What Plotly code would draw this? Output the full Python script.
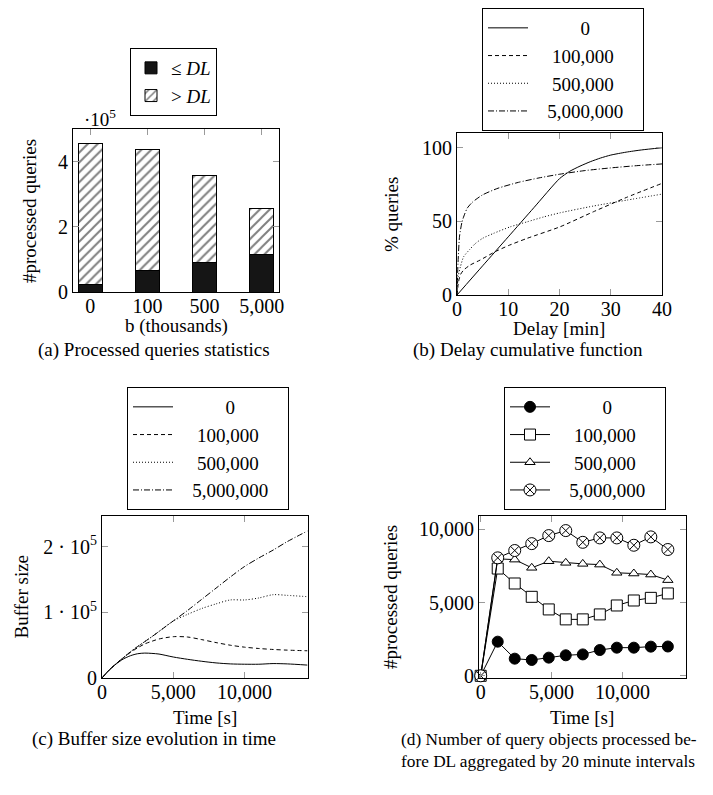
import plotly.graph_objects as go

# The page body adds an 8px margin on every side; keep the page inside the window
OFF = 8
W, H = 713 - 2 * OFF, 795 - 2 * OFF
FONT = "Liberation Serif"


def fx(p):
    return (p - OFF) / W


def fy(p):
    return 1 - (p - OFF) / H


# ---------------- (a) Processed queries statistics ----------------
b_cats = ["0", "100", "500", "5,000"]
le_dl = [22000, 66000, 89000, 114000]          # <= DL
gt_dl = [434000, 371000, 267000, 143000]       # > DL

# ---------------- (b) Delay cumulative function ----------------
b_labels = ["0", "100,000", "500,000", "5,000,000"]
delay_0 = [0, 5, 10, 15, 20, 22, 24, 26, 28, 30, 33, 36, 40]
pct_0 = [0, 19.8, 39.5, 59.3, 79, 84, 87.5, 90.5, 93, 95, 97, 98.5, 100]
delay_100k = [0, 0.3, 0.7, 1.3, 2.6, 4.5, 7.45, 10, 13.7, 20.1, 26.6, 33.1, 40]
pct_100k = [0, 9, 14, 17, 20.4, 23.7, 29.4, 33.5, 38.5, 46.3, 56.5, 66.3, 75.8]
delay_500k = [0, 0.2, 0.65, 1.3, 2.5, 3.6, 5, 7.1, 10.4, 13.7, 16.9, 20.1, 26.6, 33.1, 40]
pct_500k = [0, 12, 19, 26, 31, 35, 38.5, 41.8, 46.3, 49.7, 53, 55.8, 60.4, 64.4, 68.5]
delay_5m = [0, 0.2, 0.5, 1, 1.5, 2, 3, 5, 8, 12, 16, 20, 25, 30, 35, 40]
pct_5m = [0, 22, 40, 50, 55, 59, 63, 68, 72.5, 76.5, 79.5, 82, 84.5, 86.3, 87.8, 89]

# ---------------- (c) Buffer size evolution ----------------
time_c = [0, 500, 1000, 1500, 2000, 2500, 3000, 3500, 4000, 5000, 6000,
          7000, 8000, 9000, 10000, 11000, 12000, 13000, 14400]
buf_0 = [0, 12000, 21500, 29000, 34000, 37000, 38000, 37500, 36500, 32000, 28500,
         25500, 23000, 21500, 21000, 21000, 22000, 21500, 19700]
buf_100k = [0, 12000, 22000, 31000, 39000, 46000, 52000, 56000, 59500, 63000, 62500,
            58500, 54000, 50000, 47000, 45000, 43500, 42500, 41500]
buf_500k = [0, 12000, 22000, 31000, 40000, 48000, 55500, 63000, 71000, 87000, 97000,
            106000, 113000, 119000, 119000, 122000, 127000, 126000, 124000]
buf_5m = [0, 12000, 22000, 31000, 40000, 48000, 55500, 63000, 71000, 87000, 103000,
          120000, 137000, 154000, 170000, 183000, 195000, 208000, 224000]

# ---------------- (d) Queries processed before DL per 20 min ----------------
time_d = [0, 1200, 2400, 3600, 4800, 6000, 7200, 8400, 9600, 10800, 12000, 13200]
proc_0 = [0, 2330, 1170, 1080, 1240, 1400, 1460, 1760, 1920, 1920, 1990, 2000]
proc_100k = [0, 7320, 6300, 5390, 4530, 3850, 3850, 4190, 4800, 5140, 5320, 5620]
proc_500k = [0, 7980, 7930, 7370, 7820, 7710, 7640, 7590, 7030, 6980, 6910, 6530]
proc_5m = [0, 8050, 8550, 9020, 9570, 9910, 9110, 9410, 9410, 8910, 9480, 8620]

# centre the legend labels as in the original (padding with no-break spaces)
NB = "\u00a0"
pad_l = [NB * 10, NB * 4, NB * 4, NB * 3]
pad_r = [NB * 3, NB * 3, NB * 3, NB * 3]
leg_labels = [a + s + b for a, s, b in zip(pad_l, b_labels, pad_r)]

fig = go.Figure()

# (a)
fig.add_trace(go.Bar(
    x=b_cats, y=le_dl, name="\u2264 <i>DL</i>", width=0.42,
    marker=dict(color="#151515", line=dict(color="black", width=1)),
    xaxis="x", yaxis="y", legend="legend"))
fig.add_trace(go.Bar(
    x=b_cats, y=gt_dl, name="> <i>DL</i>", width=0.42,
    marker=dict(color="white", line=dict(color="black", width=1),
                pattern=dict(shape="/", fgcolor="black", bgcolor="white",
                             size=7, solidity=0.28)),
    xaxis="x", yaxis="y", legend="legend"))

# (b)
dashes = ["solid", "4px,3px", "1px,2px", "6px,2px,1px,2px"]
b_x = [delay_0, delay_100k, delay_500k, delay_5m]
b_y = [pct_0, pct_100k, pct_500k, pct_5m]
for i in range(4):
    fig.add_trace(go.Scatter(
        x=b_x[i], y=b_y[i], name=leg_labels[i], mode="lines",
        line=dict(color="black", width=1, dash=dashes[i], shape="spline", smoothing=0.6),
        xaxis="x2", yaxis="y2", legend="legend2"))

# (c)
c_y = [buf_0, buf_100k, buf_500k, buf_5m]
for i in range(4):
    fig.add_trace(go.Scatter(
        x=time_c, y=c_y[i], name=leg_labels[i], mode="lines",
        line=dict(color="black", width=1, dash=dashes[i], shape="spline", smoothing=0.8),
        xaxis="x3", yaxis="y3", legend="legend3"))

# (d)
d_y = [proc_0, proc_100k, proc_500k, proc_5m]
symbols = ["circle", "square", "triangle-up", "circle-x"]
fills = ["black", "white", "white", "white"]
sizes = [11, 11, 9, 12]
for i in range(4):
    fig.add_trace(go.Scatter(
        x=time_d, y=d_y[i], name=leg_labels[i], mode="lines+markers",
        line=dict(color="black", width=1),
        marker=dict(symbol=symbols[i], size=sizes[i], color=fills[i],
                    line=dict(color="black", width=1)),
        cliponaxis=False,
        xaxis="x4", yaxis="y4", legend="legend4"))

ax = dict(showline=True, linecolor="black", linewidth=1, mirror="ticks",
          ticks="inside", ticklen=6, tickcolor="#9a9a9a", tickwidth=1,
          showgrid=False, zeroline=False, automargin=False,
          tickfont=dict(size=20, color="black", family=FONT))
axx = dict(ax, ticklabelstandoff=-4)

legend_common = dict(bordercolor="black", borderwidth=1, bgcolor="white",
                     font=dict(size=19, family=FONT, color="black"),
                     xanchor="left", yanchor="top", traceorder="normal",
                     itemwidth=40, tracegroupgap=0)

fig.update_layout(
    width=W, height=H, margin=dict(l=0, r=0, t=0, b=0),
    paper_bgcolor="white", plot_bgcolor="white",
    font=dict(family=FONT, size=19, color="black"),
    barmode="stack",
    xaxis=dict(axx, domain=[fx(73), fx(279)], anchor="y", type="category",
               range=[-0.3, 3.3], layer="below traces"),
    yaxis=dict(ax, domain=[fy(292), fy(129)], anchor="x", range=[0, 500000],
               tickvals=[0, 200000, 400000], ticktext=["0", "2", "4"]),
    xaxis2=dict(axx, domain=[fx(457), fx(662)], anchor="y2", range=[0, 40],
                tickvals=[0, 10, 20, 30, 40]),
    yaxis2=dict(ax, domain=[fy(295), fy(133)], anchor="x2", range=[0, 110],
                tickvals=[0, 50, 100]),
    xaxis3=dict(axx, domain=[fx(102), fx(308)], anchor="y3", range=[0, 14450],
                tickvals=[0, 5000, 10000], ticktext=["0", "5,000", "10,000"]),
    yaxis3=dict(ax, domain=[fy(678), fy(516)], anchor="x3", range=[0, 247000],
                tickvals=[0, 100000, 200000],
                ticktext=["0", "1 \u00b7 10<sup>5</sup>", "2 \u00b7 10<sup>5</sup>"]),
    xaxis4=dict(axx, domain=[fx(479), fx(686)], anchor="y4", range=[-120, 14480],
                tickvals=[0, 5000, 10000], ticktext=["0", "5,000", "10,000"]),
    yaxis4=dict(ax, domain=[fy(678), fy(516)], anchor="x4", range=[-150, 10906],
                tickvals=[0, 5000, 10000], ticktext=["0", "5,000", "10,000"]),
    legend=dict(legend_common, x=fx(130), y=fy(48), itemwidth=30),
    legend2=dict(legend_common, x=fx(482), y=1.0),
    legend3=dict(legend_common, x=fx(127), y=fy(387)),
    legend4=dict(legend_common, x=fx(504), y=fy(387)),
    showlegend=True,
)

annotations = [
    dict(text="\u00b710<sup>5</sup>", x=fx(100), y=fy(118)),
    dict(text="#processed queries", x=fx(29), y=fy(211), textangle=-90),
    dict(text="b (thousands)", x=fx(176), y=fy(326)),
    dict(text="(a) Processed queries statistics", x=fx(154), y=fy(350)),
    dict(text="% queries", x=fx(391), y=fy(214), textangle=-90),
    dict(text="Delay [min]", x=fx(559), y=fy(328)),
    dict(text="(b) Delay cumulative function", x=fx(528), y=fy(350)),
    dict(text="Buffer size", x=0, y=fy(597), textangle=-90, xanchor="left"),
    dict(text="Time [s]", x=fx(205), y=fy(717)),
    dict(text="(c) Buffer size evolution in time", x=fx(154), y=fy(739)),
    dict(text="#processed queries", x=fx(390), y=fy(597), textangle=-90),
    dict(text="Time [s]", x=fx(582), y=fy(717)),
    dict(text="(d) Number of query objects processed be-<br>fore DL aggregated by 20 minute intervals",
         x=fx(399), y=fy(750), xanchor="left", align="left", font_size=17.3),
]
for a in annotations:
    base = dict(xref="paper", yref="paper", showarrow=False,
                xanchor="center", yanchor="middle",
                font=dict(size=19, family=FONT, color="black"))
    fs = a.pop("font_size", None)
    base.update(a)
    if fs:
        base["font"] = dict(size=fs, family=FONT, color="black")
    fig.add_annotation(**base)

fig.write_html("out.html")
